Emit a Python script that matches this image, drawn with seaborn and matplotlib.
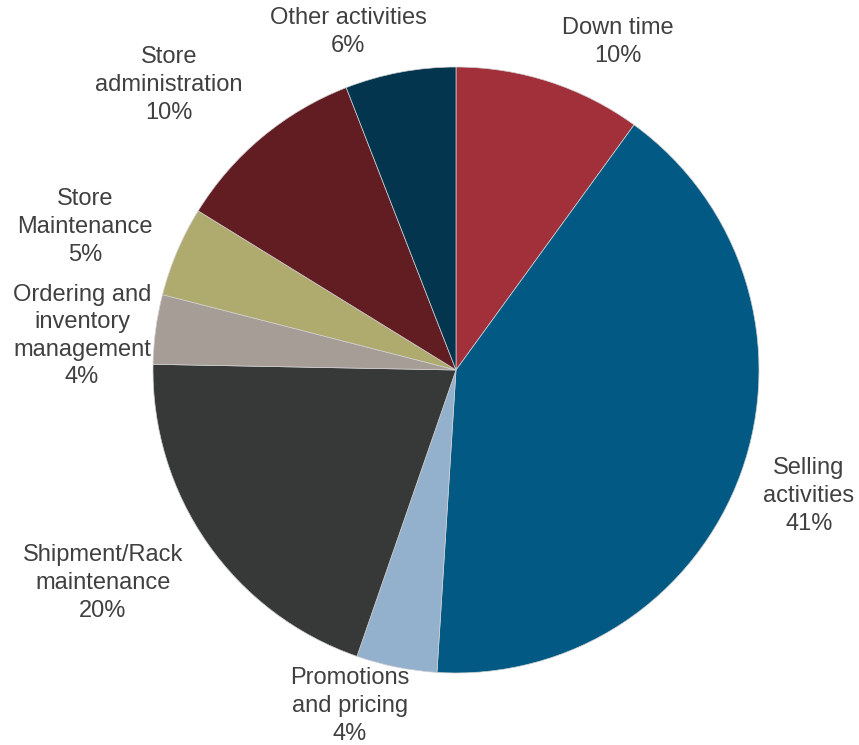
import numpy as np
import seaborn as sns
import matplotlib.pyplot as plt

# slice data, clockwise from 12 o'clock
activities = ['Down time', 'Selling\nactivities', 'Promotions\nand pricing',
              'Shipment/Rack\nmaintenance', 'Ordering and\ninventory\nmanagement',
              'Store\nMaintenance', 'Store\nadministration', 'Other activities']
shares = [10.0, 41.0, 4.3, 20.0, 3.7, 4.8, 10.3, 5.9]
colors = ['#A1303B', '#025A84', '#93B1CD', '#373938',
          '#A69D97', '#AFAB6F', '#621D23', '#03354F']

# label centres in pixels (layout only)
label_px = [(618, 42), (809, 496), (350, 706), (103, 583),
            (82, 336), (85, 227), (169, 85), (348, 32)]

sns.set_theme(style='white')
plt.rcParams['font.family'] = ['Liberation Sans', 'DejaVu Sans']

W, H = 859, 745
fig = plt.figure(figsize=(W / 100, H / 100), dpi=100)
cx, cy, r = 456, 370, 303
ax = fig.add_axes([(cx - r) / W, (H - cy - r) / H, 2 * r / W, 2 * r / H])

wedges, _ = ax.pie(shares, colors=colors, startangle=90, counterclock=False,
                   wedgeprops={'edgecolor': '#d0d0d0', 'linewidth': 0.5})
ax.set_xlim(-1, 1)
ax.set_ylim(-1, 1)
ax.axis('off')

total = sum(shares)
for name, val, (px, py) in zip(activities, shares, label_px):
    pct = int(round(val / total * 100))
    fig.text(px / W, 1 - py / H, f'{name}\n{pct}%', ha='center', va='center',
             fontsize=17, color='#404040', linespacing=1.33)

fig.savefig('out.png', dpi=100)
